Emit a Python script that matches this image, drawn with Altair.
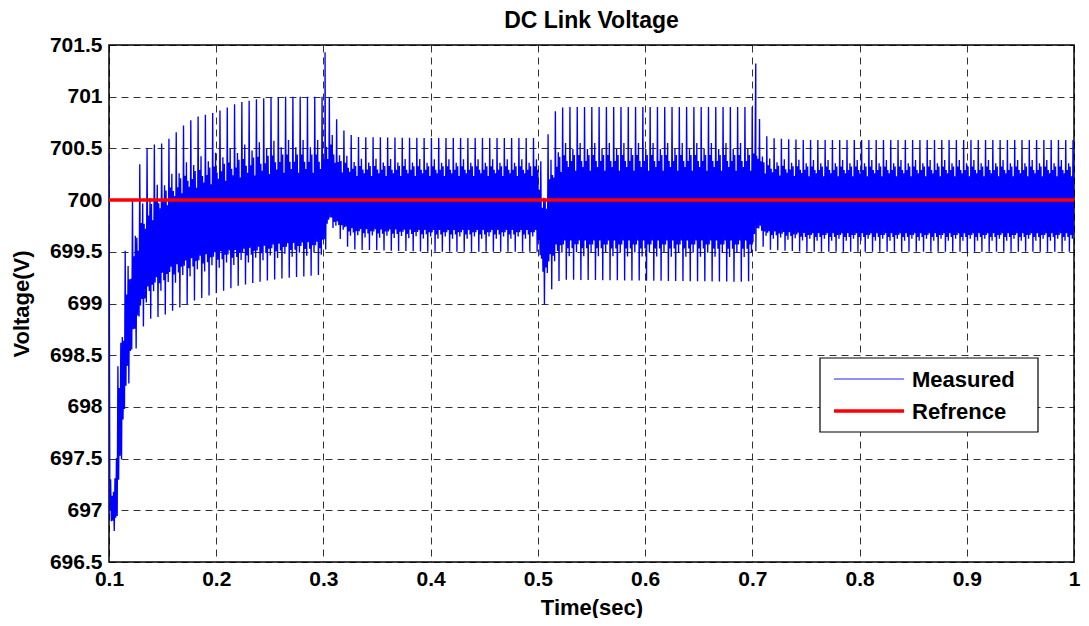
import altair as alt
import numpy as np
import pandas as pd

# ---- values ----
knot_t = [0.1015, 0.1045, 0.1075, 0.1105, 0.1130, 0.1180, 0.1235, 0.1290, 0.1330, 0.1380,
          0.1500, 0.1570, 0.1680, 0.1800, 0.2000, 0.2200, 0.2400, 0.2600, 0.2990, 0.3050,
          0.3090, 0.3115, 0.3160, 0.3220, 0.3300, 0.4000, 0.5000, 0.5030, 0.5052, 0.5083,
          0.5104, 0.5125, 0.5150, 0.5200, 0.5250, 0.6950, 0.7000, 0.7054, 0.7075, 0.7100,
          0.7150, 0.7500, 1.0000]
upper = [697.30, 697.30, 698.10, 699.20, 699.30, 699.80, 700.10, 700.36, 700.47, 700.53,
         700.55, 700.60, 700.71, 700.80, 700.85, 700.94, 700.98, 701.00, 701.00, 701.00,
         700.95, 700.80, 700.70, 700.65, 700.61, 700.60, 700.60, 700.35, 700.40, 700.55,
         700.70, 700.78, 700.85, 700.89, 700.90, 700.90, 700.90, 700.87, 700.73, 700.66,
         700.60, 700.58, 700.58]
lower = [696.85, 696.80, 696.80, 697.40, 697.60, 698.20, 698.50, 698.70, 698.80, 698.85,
         698.88, 698.92, 698.97, 699.03, 699.10, 699.17, 699.21, 699.24, 699.28, 699.75,
         699.73, 699.68, 699.62, 699.55, 699.52, 699.50, 699.50, 699.30, 698.98, 699.00,
         699.07, 699.13, 699.18, 699.22, 699.23, 699.21, 699.23, 699.68, 699.60, 699.55,
         699.52, 699.50, 699.50]
band_hi = [697.10, 697.10, 697.60, 698.30, 698.60, 699.10, 699.40, 699.60, 699.70, 699.80,
           699.95, 700.00, 700.10, 700.15, 700.20, 700.25, 700.28, 700.30, 700.30, 700.45,
           700.40, 700.35, 700.30, 700.28, 700.26, 700.26, 700.26, 699.90, 699.85, 699.95,
           700.05, 700.15, 700.22, 700.30, 700.32, 700.32, 700.32, 700.40, 700.35, 700.30,
           700.27, 700.26, 700.26]
band_lo = [696.90, 696.90, 697.00, 697.60, 697.90, 698.50, 698.80, 699.00, 699.10, 699.20,
           699.30, 699.35, 699.40, 699.45, 699.50, 699.52, 699.55, 699.58, 699.60, 699.85,
           699.82, 699.80, 699.78, 699.74, 699.72, 699.71, 699.71, 699.45, 699.35, 699.40,
           699.45, 699.50, 699.55, 699.60, 699.61, 699.61, 699.61, 699.78, 699.75, 699.72,
           699.70, 699.68, 699.68]
ripple_period = 0.0068
samples_per_period = 10
ripple_shape = [1.0, -0.55, 0.6, -0.5, 0.7, -1.0, 0.55, -0.6, 0.5, -0.7,
                1.0, -0.5, 0.55, -0.6, 0.65, -1.0, 0.6, -0.55, 0.45, -0.65]
start_t = [0.1000, 0.1008]
start_v = [700.45, 697.00]
spike_t = [0.3015, 0.7032]
spike_v = [701.43, 701.32]
ref_level = 700.0
x_ticks = [0.1, 0.2, 0.3, 0.4, 0.5, 0.6, 0.7, 0.8, 0.9, 1.0]
y_ticks = [696.5, 697, 697.5, 698, 698.5, 699, 699.5, 700, 700.5, 701, 701.5]
legend_labels = ["Measured", "Refrence"]
legend_colors = ["#6a6aff", "#ff0000"]

# ---- build the measured trace from the envelopes ----
n = len(ripple_shape)
dt = ripple_period / samples_per_period
steps = int((1.0 - knot_t[0]) / dt)
tt = knot_t[0] + np.arange(steps + 1) * dt
pp = np.array([ripple_shape[i % n] for i in range(steps + 1)])
U = np.interp(tt, knot_t, upper)
L = np.interp(tt, knot_t, lower)
BH = np.interp(tt, knot_t, band_hi)
BL = np.interp(tt, knot_t, band_lo)
C = (BH + BL) / 2
vv = np.where(pp >= 0.5, BH + (pp - 0.5) / 0.5 * (U - BH),
     np.where(pp >= 0, C + pp / 0.5 * (BH - C),
     np.where(pp >= -0.5, C + pp / 0.5 * (C - BL),
              BL + (pp + 0.5) / 0.5 * (BL - L))))
tt = np.concatenate([start_t, tt, spike_t])
vv = np.concatenate([start_v, vv, spike_v])
order = np.argsort(tt, kind="stable")
meas = pd.DataFrame({"t": tt[order], "v": vv[order]})
meas = meas[meas.t <= 1.0]
ref = pd.DataFrame({"t": [0.1, 1.0], "v": [ref_level, ref_level]})

FONT = "Liberation Sans"
xs = alt.Scale(domain=[0.1, 1.0], nice=False, zero=False)
ys = alt.Scale(domain=[696.5, 701.5], nice=False, zero=False)

xenc = alt.X("t:Q", scale=xs, title="Time(sec)",
             axis=alt.Axis(values=x_ticks, format=".1~f", labelFlush=False))
yenc = alt.Y("v:Q", scale=ys, title="Voltage(V)",
             axis=alt.Axis(values=y_ticks, format=".1~f", labelFlush=False))

line_meas = alt.Chart(meas).mark_line(clip=True, color="#0000ff", strokeWidth=1.35).encode(
    x=xenc, y=yenc, order="t:Q")
line_ref = alt.Chart(ref).mark_line(clip=True, color="#ff0000", strokeWidth=3.5).encode(
    x=xenc, y=yenc)

# ---- legend box (drawn as decoration inside the plot) ----
one = pd.DataFrame({"k": [0]})
leg_box = alt.Chart(one).mark_rect(fill="white", stroke="black", strokeWidth=1.2).encode(
    x=alt.value(711), x2=alt.value(929), y=alt.value(313), y2=alt.value(387))
leg_items = []
for i, (lab, col) in enumerate(zip(legend_labels, legend_colors)):
    yy = 334 + 32 * i
    leg_items.append(alt.Chart(one).mark_rule(color=col, strokeWidth=1.3 if i == 0 else 3.5).encode(
        x=alt.value(725), x2=alt.value(795), y=alt.value(yy)))
    leg_items.append(alt.Chart(one).mark_text(text=lab, align="left", baseline="middle",
                                              font=FONT, fontSize=22, fontWeight="bold",
                                              color="black").encode(
        x=alt.value(803), y=alt.value(yy + 1)))

chart = alt.layer(line_meas, line_ref, leg_box, *leg_items).properties(
    width=965, height=517,
    title=alt.TitleParams("DC Link Voltage", fontSize=23, font=FONT, frame="group",
                          fontWeight="bold", color="black", offset=1),
    autosize=alt.AutoSizeParams(type="none"),
    padding={"left": 101, "top": 37, "right": 7, "bottom": 56},
).configure_view(
    stroke="black", strokeWidth=1.5
).configure_axis(
    domain=False, ticks=False,
    labelFont=FONT, labelFontSize=21, labelFontWeight="bold", labelColor="black",
    titleFont=FONT, titleFontSize=22, titleFontWeight="bold", titleColor="black",
    grid=True, gridColor="black", gridOpacity=0.8, gridDash=[7, 5], gridWidth=1,
).configure_axisX(
    labelPadding=6, titlePadding=8
).configure_axisY(
    labelPadding=7, titlePadding=16
)

chart.save("out.html", embed_options={"renderer": "svg", "actions": False})
